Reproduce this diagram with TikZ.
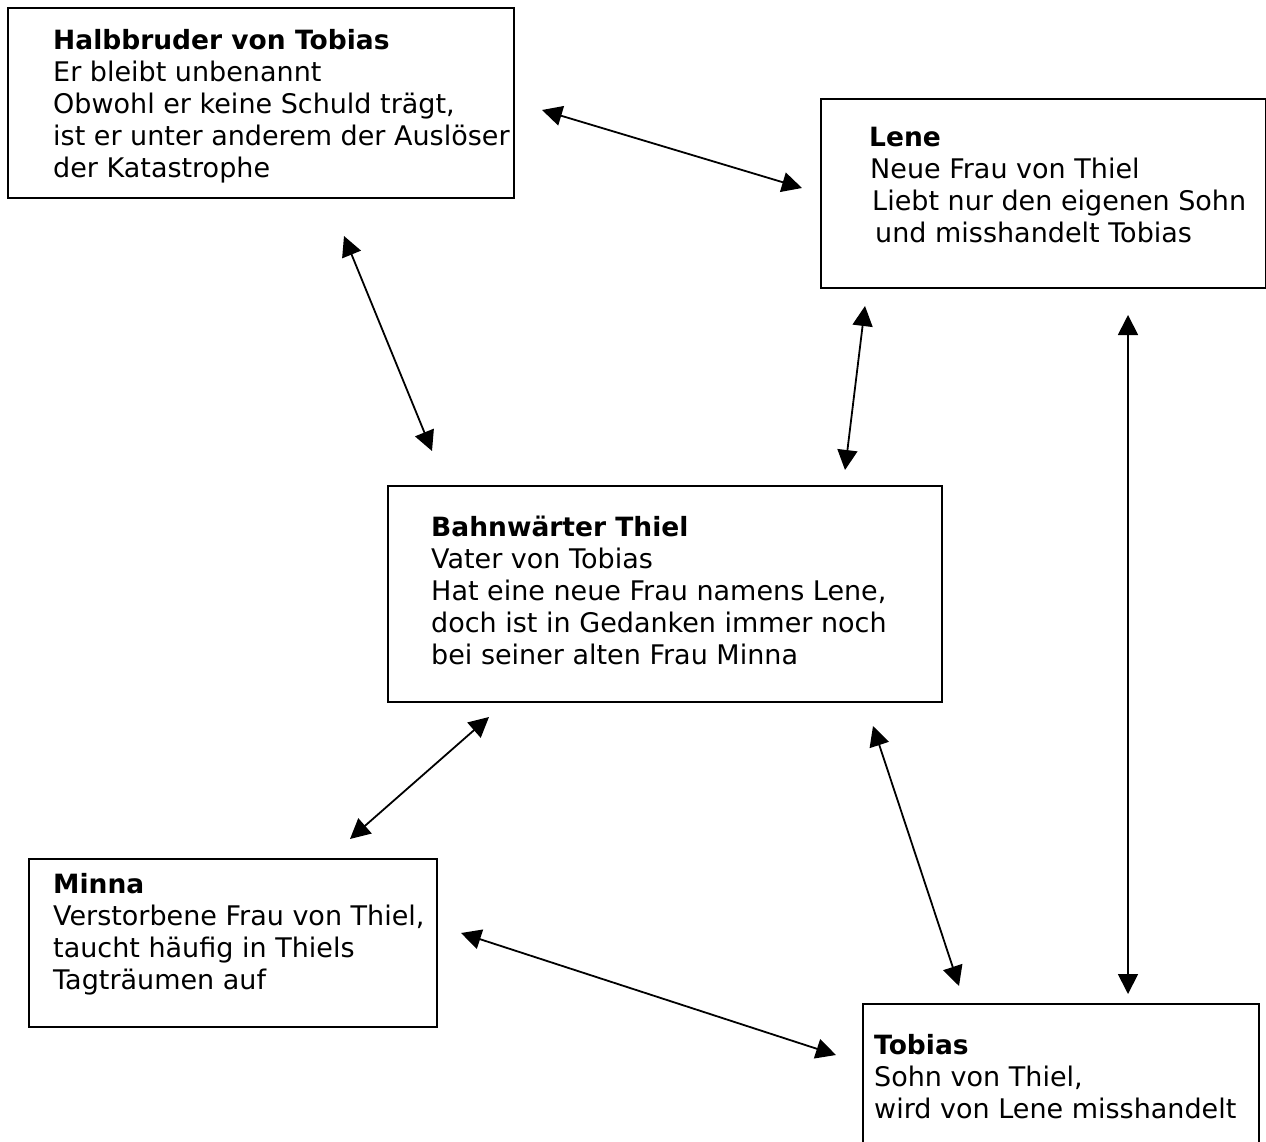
\documentclass[tikz,border=0pt]{standalone}
\usepackage{fontspec}
\setmainfont{DejaVu Sans}
\usetikzlibrary{arrows.meta}
\tikzset{
  box/.style={draw=black, line width=2pt, rectangle, inner sep=0pt, anchor=north west},
  txt/.style={inner sep=0pt, anchor=base west, font=\fontsize{27}{32}\selectfont},
  conn/.style={line width=1.8pt, {Triangle[length=20pt,width=20pt]}-{Triangle[length=20pt,width=20pt]}}
}
\newcommand{\ml}[1]{\vtop{\baselineskip=32pt\lineskiplimit=-20pt #1}}
\newcommand{\ttl}[1]{\hbox{\fontsize{26.5}{32}\selectfont\bfseries #1}}
\begin{document}
\begin{tikzpicture}[x=1pt,y=-1pt]
\useasboundingbox (0,0) rectangle (1266,1142);
\clip (0,0) rectangle (1266,1142);
\fill[white] (0,0) rectangle (1266,1142);

% boxes
\node[box, minimum width=506pt, minimum height=190pt] (hb) at (7,7) {};
\node[box, minimum width=445pt, minimum height=189pt] (le) at (820,98) {};
\node[box, minimum width=554pt, minimum height=216pt] (bt) at (387,485) {};
\node[box, minimum width=408pt, minimum height=168pt] (mi) at (28,858) {};
\node[box, minimum width=396pt, minimum height=160pt] (to) at (862,1003) {};

% texts
\node[txt] (hbt) at (53,50) {\ml{\ttl{Halbbruder von Tobias}\hbox{Er bleibt unbenannt}\hbox{Obwohl er keine Schuld trägt,}\hbox{ist er unter anderem der Auslöser}\hbox{der Katastrophe}}};
\node[txt] (let) at (869,147) {\ml{\ttl{Lene}\hbox{\kern1pt Neue Frau von Thiel}\hbox{\kern3pt Liebt nur den eigenen Sohn}\hbox{\kern6pt und misshandelt Tobias}}};
\node[txt] (btt) at (431,536) {\ml{\ttl{Bahnwärter Thiel}\hbox{Vater von Tobias}\hbox{Hat eine neue Frau namens Lene,}\hbox{doch ist in Gedanken immer noch}\hbox{bei seiner alten Frau Minna}}};
\node[txt] (mit) at (53,893) {\ml{\ttl{Minna}\hbox{Verstorbene Frau von Thiel,}\hbox{taucht häufig in Thiels}\hbox{Tagträumen auf}}};
\node[txt] (tot) at (874,1054) {\ml{\ttl{Tobias}\hbox{Sohn von Thiel,}\hbox{wird von Lene misshandelt}}};

% connector end points
\coordinate (hbR) at (542,110);
\coordinate (leL) at (802,188);
\coordinate (hbB) at (344,236);
\coordinate (btT) at (432,451);
\coordinate (leB) at (865,306);
\coordinate (btTR) at (845,470);
\coordinate (leBR) at (1128,315);
\coordinate (toT) at (1128,994);
\coordinate (btB) at (489,717);
\coordinate (miT) at (350,839);
\coordinate (btBR) at (873,726);
\coordinate (toTL) at (959,986);
\coordinate (miR) at (461,933);
\coordinate (toL) at (836,1055);

\draw[conn] (hbR) -- (leL);
\draw[conn] (hbB) -- (btT);
\draw[conn] (leB) -- (btTR);
\draw[conn] (leBR) -- (toT);
\draw[conn] (btB) -- (miT);
\draw[conn] (btBR) -- (toTL);
\draw[conn] (miR) -- (toL);
\end{tikzpicture}
\end{document}
